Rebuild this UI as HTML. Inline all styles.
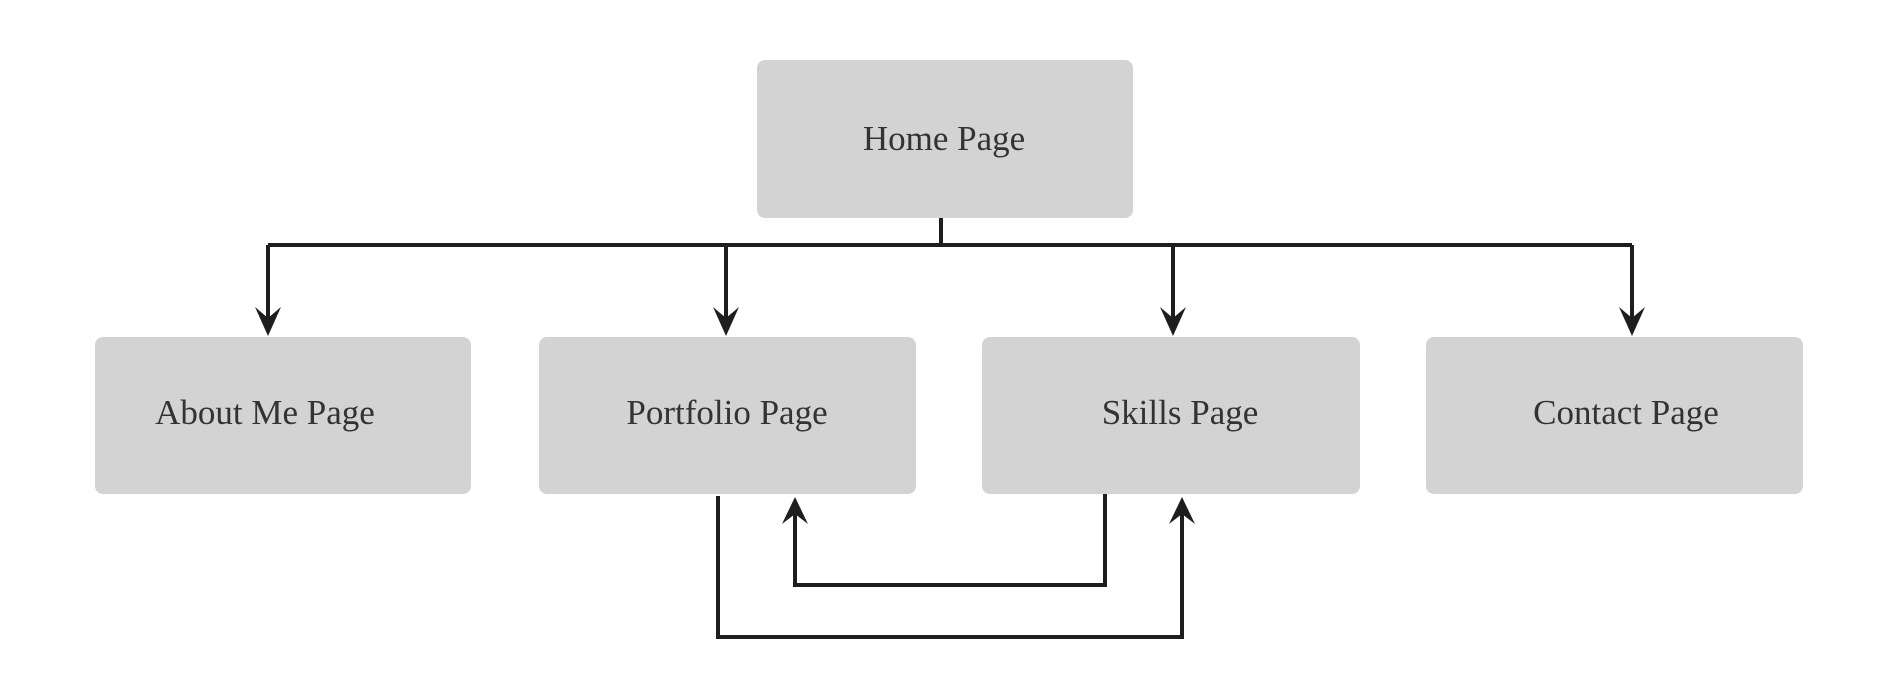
<!DOCTYPE html>
<html><head><style>
body{margin:0;width:1890px;height:684px;background:#fff;overflow:hidden}
</style></head><body>
<svg width="1890" height="684" xmlns="http://www.w3.org/2000/svg">
<defs>
<marker id="a" viewBox="0 0 20 20" refX="10" refY="18" markerWidth="20" markerHeight="20" markerUnits="userSpaceOnUse" orient="auto-start-reverse">
</marker>
</defs>
<g fill="#d3d3d3">
<rect x="757" y="60" width="376" height="158" rx="8"/>
<rect x="95" y="337" width="376" height="157" rx="8"/>
<rect x="539" y="337" width="377" height="157" rx="8"/>
<rect x="982" y="337" width="378" height="157" rx="8"/>
<rect x="1426" y="337" width="377" height="157" rx="8"/>
</g>
<g font-family="Liberation Serif, serif" font-size="35" fill="#333" text-anchor="middle">
<text x="944" y="150">Home Page</text>
<text x="265" y="424">About Me Page</text>
<text x="727" y="424">Portfolio Page</text>
<text x="1180" y="424">Skills Page</text>
<text x="1626" y="424">Contact Page</text>
</g>
<g stroke="#1e1e1e" stroke-width="4" fill="none">
<path d="M941 218V245M268 245H1632"/>
<path d="M268 245V325M726 245V325M1173 245V325M1632 245V325"/>
<path d="M718 496V637H1182V505"/>
<path d="M1105 494V585H795V505"/>
</g>
<g fill="#1e1e1e">
<path d="M268 336L255 307L268 318L281 307Z"/>
<path d="M726 336L713 307L726 318L739 307Z"/>
<path d="M1173 336L1160 307L1173 318L1186 307Z"/>
<path d="M1632 336L1619 307L1632 318L1645 307Z"/>
<path d="M795 497L782 524L795 514L808 524Z"/>
<path d="M1182 497L1169 524L1182 514L1195 524Z"/>
</g>
</svg>
</body></html>
